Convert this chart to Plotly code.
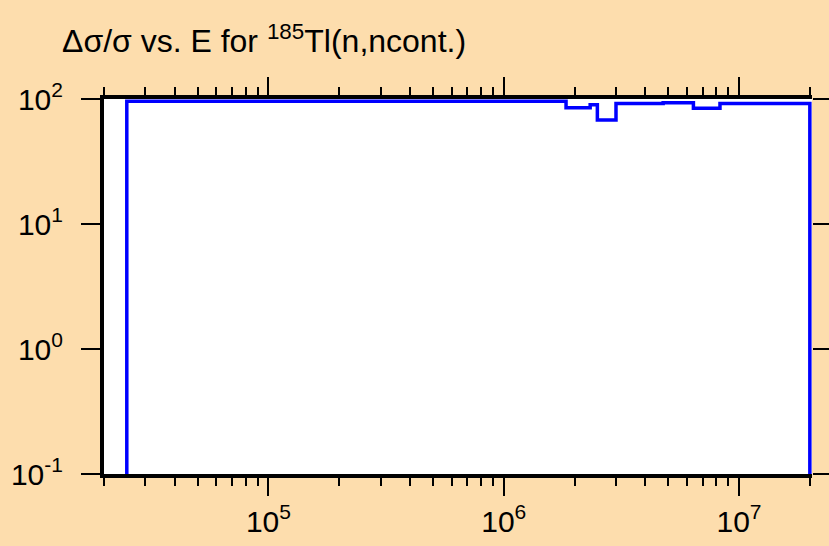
import plotly.graph_objects as go
import numpy as np

# ---- data ----
bin_edges = [2.5e4, 1.84e6, 2.33e6, 2.5e6, 3.0e6, 4.76e6, 6.4e6, 8.3e6, 2.0e7]   # energy (eV)
rel_unc = [96, 85, 90, 68, 92, 93.5, 84.5, 92]                                   # delta sigma / sigma (%)
floor_val = 1e-3                                                                  # below the axis range

y_tickvals = [0.1, 1, 10, 100]
y_ticktext = ["10<sup>-1</sup>", "10<sup>0</sup>", "10<sup>1</sup>", "10<sup>2</sup>"]
x_tickvals = [1e5, 1e6, 1e7]
x_ticktext = ["10<sup>5</sup>", "10<sup>6</sup>", "10<sup>7</sup>"]
x_minor = [m * 10 ** d for d in (4, 5, 6, 7) for m in range(2, 10) if 2e4 <= m * 10 ** d <= 2e7]

title_text = "\u0394\u03c3/\u03c3 vs. E for <sup>185</sup>Tl(n,ncont.)"

# step outline built from bins
xs = [bin_edges[0]] + bin_edges + [bin_edges[-1]]
ys = [floor_val] + rel_unc + [rel_unc[-1], floor_val]

W, H = 829, 546
FONT = "Liberation Sans, Arial, sans-serif"
BG = "#FDDDAD"

fig = go.Figure()
fig.add_trace(go.Scatter(x=xs, y=ys, mode="lines", line=dict(color="#0000FF", width=3.5, shape="hv"),
                         hoverinfo="skip", showlegend=False))
# invisible trace to activate right-hand tick axis
fig.add_trace(go.Scatter(x=[1e5], y=[1], mode="markers", marker=dict(opacity=0), yaxis="y2",
                         hoverinfo="skip", showlegend=False))

x_range = [np.log10(2e4), 7.3102]
y_range = [-1, 2]

fig.update_layout(
    width=W, height=H,
    paper_bgcolor=BG, plot_bgcolor="white",
    margin=dict(l=104, r=17, t=99, b=72, autoexpand=False),
    font=dict(family=FONT, size=30, color="black"),
    title=dict(text=title_text, x=62 / W, xanchor="left", xref="container",
               y=1 - 52 / H, yanchor="bottom", yref="container",
               font=dict(family=FONT, size=32, color="black")),
    xaxis=dict(type="log", range=x_range, showgrid=False, zeroline=False, automargin=False,
               showline=True, linecolor="black", linewidth=3.5, mirror="ticks",
               ticks="outside", ticklen=18, tickwidth=2, tickcolor="black",
               tickvals=x_tickvals, ticktext=x_ticktext,
               minor=dict(tickvals=x_minor, ticks="outside", ticklen=8, tickwidth=2, tickcolor="black", showgrid=False),
               tickfont=dict(family=FONT, size=30)),
    yaxis=dict(type="log", range=y_range, showgrid=False, zeroline=False, automargin=False,
               showline=True, linecolor="black", linewidth=4,
               ticks="outside", ticklen=19, tickwidth=2, tickcolor="black",
               tickvals=y_tickvals, ticktext=y_ticktext, ticklabelstandoff=12,
               tickfont=dict(family=FONT, size=30)),
    yaxis2=dict(type="log", range=y_range, overlaying="y", side="right", showgrid=False, zeroline=False,
                automargin=False,
                showline=False, ticks="outside", ticklen=19, tickwidth=2, tickcolor="black",
                tickvals=y_tickvals, showticklabels=False),
)

fig.write_html("out.html", config={"displayModeBar": False},
               post_script="document.body.style.margin='0';document.body.style.background='" + BG + "';")
